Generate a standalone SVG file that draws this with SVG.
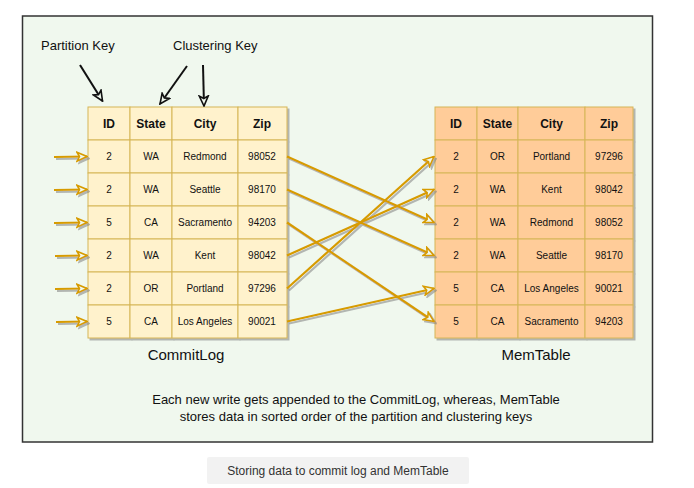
<svg xmlns="http://www.w3.org/2000/svg" width="694" height="488" viewBox="0 0 694 488">
<style>
  text { font-family: "Liberation Sans", Arial, sans-serif; fill: #111; }
  .hdr { font-size: 12px; font-weight: bold; text-anchor: middle; }
  .cell { font-size: 10px; text-anchor: middle; }
  .cl rect { fill: #FFF2CC; stroke: #D6B656; stroke-width: 1; }
  .mt rect { fill: #FFCC99; stroke: #D6B656; stroke-width: 1; }
  .lbl { font-size: 13px; }
  .title { font-size: 15px; text-anchor: middle; }
  .desc { font-size: 13px; text-anchor: middle; }
  .orange { stroke: #D79B00; stroke-width: 2.2; fill: none; marker-end: url(#ao); }
  .black { stroke: #111; stroke-width: 2; fill: none; marker-end: url(#ab); }
</style>
<defs>
  <filter id="sh" x="-10%" y="-10%" width="130%" height="130%">
    <feDropShadow dx="2" dy="2" stdDeviation="0.6" flood-color="#808080" flood-opacity="0.55"/>
  </filter>
  <marker id="ao" viewBox="0 0 12 12" refX="11" refY="6" markerWidth="12" markerHeight="12" markerUnits="userSpaceOnUse" orient="auto">
    <path d="M1,1.5 L11,6 L1,10.5 L3.5,6 Z" fill="#F0F8EE" stroke="#D79B00" stroke-width="1.6" stroke-linejoin="miter"/>
  </marker>
  <marker id="ab" viewBox="0 0 12 12" refX="11" refY="6" markerWidth="12" markerHeight="12" markerUnits="userSpaceOnUse" orient="auto">
    <path d="M1,1.5 L11,6 L1,10.5 L3.5,6 Z" fill="#F0F8EE" stroke="#111" stroke-width="1.6"/>
  </marker>
</defs>

<rect x="0" y="0" width="694" height="488" fill="#FFFFFF"/>
<rect id="frame" x="22.5" y="16" width="630" height="426" fill="#F0F8EE" stroke="#333" stroke-width="1.5"/>

<g id="partition-key-label"><text class="lbl" x="41" y="50">Partition Key</text></g>
<g id="clustering-key-label"><text class="lbl" x="173" y="50">Clustering Key</text></g>

<g id="commitlog" class="cl" filter="url(#sh)">
  <rect x="88" y="107" width="42" height="33"/><rect x="130" y="107" width="42" height="33"/><rect x="172" y="107" width="66" height="33"/><rect x="238" y="107" width="49" height="33"/>
  <rect x="88" y="140" width="42" height="33"/><rect x="130" y="140" width="42" height="33"/><rect x="172" y="140" width="66" height="33"/><rect x="238" y="140" width="49" height="33"/>
  <rect x="88" y="173" width="42" height="33"/><rect x="130" y="173" width="42" height="33"/><rect x="172" y="173" width="66" height="33"/><rect x="238" y="173" width="49" height="33"/>
  <rect x="88" y="206" width="42" height="33"/><rect x="130" y="206" width="42" height="33"/><rect x="172" y="206" width="66" height="33"/><rect x="238" y="206" width="49" height="33"/>
  <rect x="88" y="239" width="42" height="33"/><rect x="130" y="239" width="42" height="33"/><rect x="172" y="239" width="66" height="33"/><rect x="238" y="239" width="49" height="33"/>
  <rect x="88" y="272" width="42" height="33"/><rect x="130" y="272" width="42" height="33"/><rect x="172" y="272" width="66" height="33"/><rect x="238" y="272" width="49" height="33"/>
  <rect x="88" y="305" width="42" height="33"/><rect x="130" y="305" width="42" height="33"/><rect x="172" y="305" width="66" height="33"/><rect x="238" y="305" width="49" height="33"/>
</g>
<g id="commitlog-text">
  <text class="hdr" x="109" y="128">ID</text><text class="hdr" x="151" y="128">State</text><text class="hdr" x="205" y="128">City</text><text class="hdr" x="262" y="128">Zip</text>
  <text class="cell" x="109" y="160">2</text><text class="cell" x="151" y="160">WA</text><text class="cell" x="205" y="160">Redmond</text><text class="cell" x="262" y="160">98052</text>
  <text class="cell" x="109" y="193">2</text><text class="cell" x="151" y="193">WA</text><text class="cell" x="205" y="193">Seattle</text><text class="cell" x="262" y="193">98170</text>
  <text class="cell" x="109" y="226">5</text><text class="cell" x="151" y="226">CA</text><text class="cell" x="205" y="226">Sacramento</text><text class="cell" x="262" y="226">94203</text>
  <text class="cell" x="109" y="259">2</text><text class="cell" x="151" y="259">WA</text><text class="cell" x="205" y="259">Kent</text><text class="cell" x="262" y="259">98042</text>
  <text class="cell" x="109" y="292">2</text><text class="cell" x="151" y="292">OR</text><text class="cell" x="205" y="292">Portland</text><text class="cell" x="262" y="292">97296</text>
  <text class="cell" x="109" y="325">5</text><text class="cell" x="151" y="325">CA</text><text class="cell" x="205" y="325">Los Angeles</text><text class="cell" x="262" y="325">90021</text>
  <text class="title" x="186" y="360">CommitLog</text>
</g>

<g id="memtable" class="mt" filter="url(#sh)">
  <rect x="435" y="107" width="42" height="33"/><rect x="477" y="107" width="41" height="33"/><rect x="518" y="107" width="67" height="33"/><rect x="585" y="107" width="48" height="33"/>
  <rect x="435" y="140" width="42" height="33"/><rect x="477" y="140" width="41" height="33"/><rect x="518" y="140" width="67" height="33"/><rect x="585" y="140" width="48" height="33"/>
  <rect x="435" y="173" width="42" height="33"/><rect x="477" y="173" width="41" height="33"/><rect x="518" y="173" width="67" height="33"/><rect x="585" y="173" width="48" height="33"/>
  <rect x="435" y="206" width="42" height="33"/><rect x="477" y="206" width="41" height="33"/><rect x="518" y="206" width="67" height="33"/><rect x="585" y="206" width="48" height="33"/>
  <rect x="435" y="239" width="42" height="33"/><rect x="477" y="239" width="41" height="33"/><rect x="518" y="239" width="67" height="33"/><rect x="585" y="239" width="48" height="33"/>
  <rect x="435" y="272" width="42" height="33"/><rect x="477" y="272" width="41" height="33"/><rect x="518" y="272" width="67" height="33"/><rect x="585" y="272" width="48" height="33"/>
  <rect x="435" y="305" width="42" height="33"/><rect x="477" y="305" width="41" height="33"/><rect x="518" y="305" width="67" height="33"/><rect x="585" y="305" width="48" height="33"/>
</g>
<g id="memtable-text">
  <text class="hdr" x="456" y="128">ID</text><text class="hdr" x="497.5" y="128">State</text><text class="hdr" x="551.5" y="128">City</text><text class="hdr" x="609" y="128">Zip</text>
  <text class="cell" x="456" y="160">2</text><text class="cell" x="497.5" y="160">OR</text><text class="cell" x="551.5" y="160">Portland</text><text class="cell" x="609" y="160">97296</text>
  <text class="cell" x="456" y="193">2</text><text class="cell" x="497.5" y="193">WA</text><text class="cell" x="551.5" y="193">Kent</text><text class="cell" x="609" y="193">98042</text>
  <text class="cell" x="456" y="226">2</text><text class="cell" x="497.5" y="226">WA</text><text class="cell" x="551.5" y="226">Redmond</text><text class="cell" x="609" y="226">98052</text>
  <text class="cell" x="456" y="259">2</text><text class="cell" x="497.5" y="259">WA</text><text class="cell" x="551.5" y="259">Seattle</text><text class="cell" x="609" y="259">98170</text>
  <text class="cell" x="456" y="292">5</text><text class="cell" x="497.5" y="292">CA</text><text class="cell" x="551.5" y="292">Los Angeles</text><text class="cell" x="609" y="292">90021</text>
  <text class="cell" x="456" y="325">5</text><text class="cell" x="497.5" y="325">CA</text><text class="cell" x="551.5" y="325">Sacramento</text><text class="cell" x="609" y="325">94203</text>
  <text class="title" x="536" y="360">MemTable</text>
</g>

<g id="connectors">
  <g filter="url(#sh)">
    <line class="orange" x1="54" y1="157" x2="87" y2="156.5"/>
    <line class="orange" x1="54" y1="190" x2="87" y2="189.5"/>
    <line class="orange" x1="54" y1="223" x2="87" y2="222.5"/>
    <line class="orange" x1="55" y1="256" x2="87" y2="255.5"/>
    <line class="orange" x1="55" y1="289" x2="87" y2="288.5"/>
    <line class="orange" x1="56" y1="322" x2="87" y2="321.5"/>
    <line class="orange" x1="287" y1="156.5" x2="434" y2="222.5"/>
    <line class="orange" x1="287" y1="189.5" x2="434" y2="255.5"/>
    <line class="orange" x1="287" y1="222.5" x2="434" y2="321.5"/>
    <line class="orange" x1="287" y1="255.5" x2="434" y2="189.5"/>
    <line class="orange" x1="287" y1="288.5" x2="434" y2="156.5"/>
    <line class="orange" x1="287" y1="321.5" x2="434" y2="288.5"/>
  </g>
  <line class="black" x1="80" y1="65" x2="102.5" y2="101"/>
  <line class="black" x1="187" y1="66" x2="160" y2="104"/>
  <line class="black" x1="203" y1="65" x2="204" y2="106"/>
</g>

<g id="description">
  <text class="desc" x="356" y="404">Each new write gets appended to the CommitLog, whereas, MemTable</text>
  <text class="desc" x="356" y="421">stores data in sorted order of the partition and clustering keys</text>
</g>

<g id="caption">
  <rect x="207" y="457" width="262" height="27" rx="2" fill="#F2F2F2"/>
  <text x="338" y="475" style="font-size:12px; text-anchor:middle; fill:#333">Storing data to commit log and MemTable</text>
</g>
</svg>
